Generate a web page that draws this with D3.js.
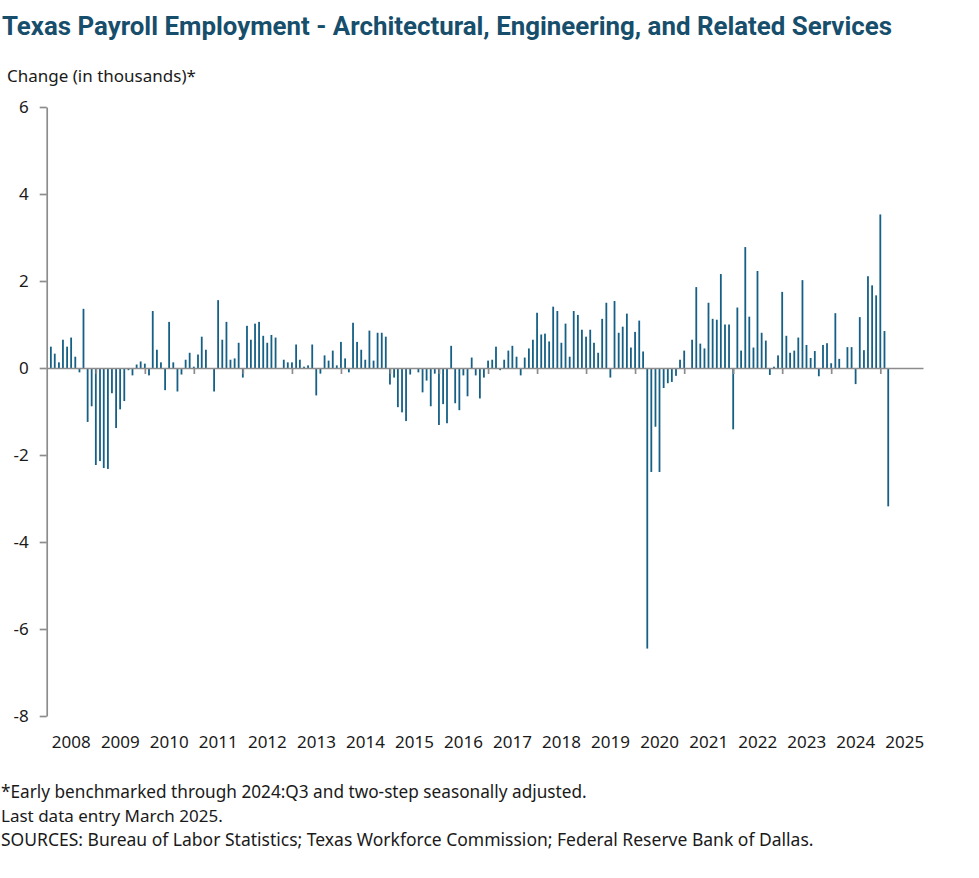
<!DOCTYPE html>
<meta charset="utf-8">
<head>
    <style>
     body { margin: 0; background: #fff; }
     svg text { font-family: "Noto Sans", "Open Sans", sans-serif; fill: #1a1a1a; }
     .title { font-family: Roboto, "Noto Sans", sans-serif; font-weight: 700; fill: #164e6b; }
     .axis path, .axis line { stroke: #8c8c8c; stroke-width: 1.7; }
    </style>
</head>
<title>Texas Payroll Employment</title>
<body>
</body>
<script src="https://d3js.org/d3.v7.min.js"></script>
<script>
 // monthly change, thousands, Feb 2008 .. Mar 2025
 const firstMonth = new Date(2008, 1, 1);
 const changes = [
     // 2008 (Feb-Dec)
     0.49, 0.33, 0.13, 0.65, 0.49, 0.70, 0.26, -0.10, 1.36, -1.24, -0.88,
     // 2009
     -2.23, -2.14, -2.30, -2.32, -0.58, -1.38, -0.95, -0.76, -0.05, -0.17, 0.08, 0.15,
     // 2010
     0.10, -0.17, 1.31, 0.42, 0.13, -0.51, 1.06, 0.13, -0.54, -0.15, 0.19, 0.35,
     // 2011
     0.03, 0.31, 0.72, 0.42, 0.00, -0.54, 1.56, 0.65, 1.06, 0.19, 0.22, 0.58,
     // 2012
     -0.22, 0.97, 0.65, 1.02, 1.06, 0.74, 0.58, 0.76, 0.70, 0.00, 0.19, 0.13,
     // 2013
     0.13, 0.54, 0.19, 0.03, 0.06, 0.54, -0.63, -0.13, 0.29, 0.17, 0.40, 0.06,
     // 2014
     0.60, 0.22, -0.10, 1.04, 0.60, 0.42, 0.19, 0.86, 0.17, 0.81, 0.81, 0.72,
     // 2015
     -0.38, -0.22, -0.90, -1.02, -1.22, -0.15, 0.00, -0.10, -0.56, -0.29, -0.88, -0.13,
     // 2016
     -1.31, -0.83, -1.27, 0.51, -0.81, -0.97, -0.17, -0.65, 0.24, -0.17, -0.70, -0.22,
     // 2017
     0.17, 0.19, 0.49, -0.05, 0.19, 0.40, 0.51, 0.26, -0.17, 0.24, 0.45, 0.65,
     // 2018
     1.27, 0.77, 0.79, 0.61, 1.41, 1.31, 0.58, 1.02, 0.26, 1.31, 1.22, 0.88,
     // 2019
     0.72, 0.88, 0.58, 0.35, 1.13, 1.50, -0.22, 1.54, 0.81, 0.95, 1.25, 0.47,
     // 2020
     0.83, 1.09, 0.38, -6.45, -2.39, -1.35, -2.39, -0.46, -0.35, -0.32, -0.18, 0.19,
     // 2021
     0.40, 0.00, 0.65, 1.86, 0.56, 0.45, 1.50, 1.13, 1.11, 2.16, 1.00, 1.00,
     // 2022
     -1.41, 1.39, 0.40, 2.78, 1.18, 0.47, 2.23, 0.81, 0.63, -0.16, 0.03, 0.29,
     // 2023
     1.75, 0.74, 0.35, 0.40, 0.70, 2.02, 0.53, 0.23, 0.39, -0.19, 0.53, 0.57,
     // 2024
     0.11, 1.26, 0.21, 0.00, 0.48, 0.48, -0.37, 1.17, 0.41, 2.11, 1.90, 1.67,
     // 2025
     3.53, 0.85, -3.18
 ];
 const yTicks = [-8, -6, -4, -2, 0, 2, 4, 6];
 const yearLabels = [2008, 2009, 2010, 2011, 2012, 2013, 2014, 2015, 2016,
                     2017, 2018, 2019, 2020, 2021, 2022, 2023, 2024, 2025];

 const titleText = "Texas Payroll Employment - Architectural, Engineering, and Related Services";
 const yLabelText = "Change (in thousands)*";
 const notes = [
     "*Early benchmarked through 2024:Q3 and two-step seasonally adjusted.",
     "Last data entry March 2025.",
     "SOURCES:  Bureau of Labor Statistics; Texas Workforce Commission;  Federal Reserve Bank of Dallas."
 ];

 const width = 979, height = 878;
 const barColor = "#166086";

 const data = changes.map((v, i) => ({date: d3.timeMonth.offset(firstMonth, i), value: v}));

 const svg = d3.select("body").append("svg")
               .attr("width", width)
               .attr("height", height);

 const x = d3.scaleTime()
             .domain([new Date(2008, 0, 1), new Date(2025, 10, 15)])
             .range([46.7, 923]);
 const y = d3.scaleLinear()
             .domain([-8, 6])
             .range([716, 107]);

 // shrink a text to a target width
 function fit(sel, target) {
     const w = sel.node().getComputedTextLength();
     if (w > 0) {
         const fs = parseFloat(sel.style("font-size"));
         sel.style("font-size", (fs * target / w) + "px");
     }
 }

 // title, stretched to the reference width
 svg.append("text")
    .attr("class", "title")
    .attr("x", 2)
    .attr("y", 35)
    .style("font-size", "25px")
    .attr("textLength", 890)
    .attr("lengthAdjust", "spacingAndGlyphs")
    .text(titleText);

 const yLab = svg.append("text")
                 .attr("x", 7)
                 .attr("y", 81.5)
                 .style("font-size", "17px")
                 .text(yLabelText);
 fit(yLab, 189);

 // bars
 svg.append("g")
    .selectAll("rect")
    .data(data)
    .join("rect")
    .attr("x", d => x(d.date) - 0.9)
    .attr("width", 1.8)
    .attr("y", d => y(Math.max(0, d.value)))
    .attr("height", d => Math.abs(y(d.value) - y(0)))
    .attr("fill", barColor);

 // y axis
 const yAxis = svg.append("g")
                  .attr("class", "axis")
                  .attr("transform", "translate(46.7,0)")
                  .call(d3.axisLeft(y).tickValues(yTicks).tickSize(7).tickSizeOuter(0).tickPadding(11)
                          .tickFormat(d => d));
 yAxis.selectAll("text")
      .style("font-size", "17px")
      .style("font-family", "\"Noto Sans\", sans-serif")
      .attr("fill", "#1a1a1a");

 // x axis along zero
 const xAxis = svg.append("g")
                  .attr("class", "axis")
                  .attr("transform", `translate(0,${y(0)})`)
                  .call(d3.axisBottom(x)
                          .ticks(d3.timeYear.every(1))
                          .tickSize(6)
                          .tickSizeOuter(0)
                          .tickFormat(""));
 xAxis.selectAll(".tick")
      .filter(d => d.getFullYear() === 2008)
      .remove();

 // year labels centred in each year
 svg.append("g")
    .selectAll("text")
    .data(yearLabels)
    .join("text")
    .attr("x", d => (x(new Date(d, 0, 1)) + x(new Date(d + 1, 0, 1))) / 2)
    .attr("y", 748)
    .attr("text-anchor", "middle")
    .style("font-size", "17px")
    .text(d => d);

 // footnotes
 const noteY = [798, 822, 846];
 const noteW = [586, 222, 813];
 notes.forEach((t, i) => {
     const n = svg.append("text")
                  .attr("x", 1)
                  .attr("y", noteY[i])
                  .style("font-size", "17px")
                  .text(t);
     fit(n, noteW[i]);
 });
</script>
